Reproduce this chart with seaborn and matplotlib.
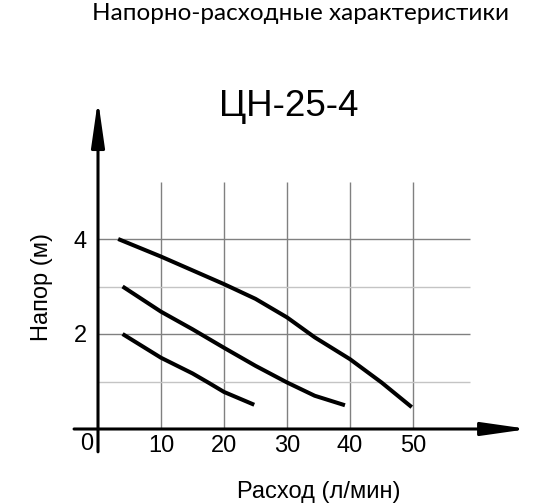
import numpy as np
import pandas as pd
import matplotlib
matplotlib.use("Agg")
import matplotlib.pyplot as plt
import seaborn as sns

# curves: flow (л/мин) vs head (м)
flow_high = [3.2, 10, 15, 20, 25, 30, 34.4, 40, 45, 49.8]
head_high = [4.0, 3.63, 3.34, 3.05, 2.74, 2.35, 1.93, 1.47, 0.98, 0.46]
flow_mid = [3.9, 10, 15, 20, 25, 30, 34.4, 39.2]
head_mid = [3.0, 2.47, 2.10, 1.71, 1.33, 0.98, 0.70, 0.50]
flow_low = [3.9, 10, 15, 17.6, 20, 24.8]
head_low = [2.0, 1.50, 1.17, 0.97, 0.78, 0.51]

x_ticks = [10, 20, 30, 40, 50]
y_ticks = [2, 4]
y_minor = [1, 3]

title_top = "Напорно-расходные характеристики"
model = "ЦН-25-4"
x_label = "Расход (л/мин)"
y_label = "Напор (м)"

sns.set_style("white")
plt.rcParams["font.family"] = ["Liberation Sans", "DejaVu Sans"]
plt.rcParams["text.color"] = "black"
plt.rcParams["xtick.color"] = "black"
plt.rcParams["ytick.color"] = "black"

df = pd.concat([
    pd.DataFrame({"flow": flow_high, "head": head_high, "speed": "3"}),
    pd.DataFrame({"flow": flow_mid, "head": head_mid, "speed": "2"}),
    pd.DataFrame({"flow": flow_low, "head": head_low, "speed": "1"}),
], ignore_index=True)

fig = plt.figure(figsize=(5.6, 5.04), dpi=100)
ax = fig.add_axes([0, 0, 1, 1])
ax.set_xlim(-98 / 6.3, 462 / 6.3)
ax.set_ylim(-75 / 47.5, 429 / 47.5)

# grid
ax.vlines(x_ticks, 0, 5.2, color="#808080", lw=1.0, zorder=1)
ax.hlines(y_ticks, 0, 59, color="#808080", lw=1.0, zorder=1)
ax.hlines(y_minor, 0, 59, color="#c4c4c4", lw=1.0, zorder=1)

sns.lineplot(data=df, x="flow", y="head", hue="speed", units="speed",
             estimator=None, palette=["black"] * 3, linewidth=2.9,
             legend=False, ax=ax, zorder=3)
for line in ax.get_lines():
    line.set_solid_capstyle("butt")
    line.set_solid_joinstyle("round")

# axes with arrows
arrow = dict(arrowstyle="-|>,head_length=2.8,head_width=0.4", lw=2.2,
             color="black", shrinkA=0, shrinkB=0)
ax.annotate("", xy=(68.3, 0), xytext=(-3.8, 0), arrowprops=arrow, zorder=4)
ax.annotate("", xy=(0, 6.93), xytext=(0, -0.48), arrowprops=arrow, zorder=4)

for side in ["top", "right"]:
    ax.spines[side].set_visible(False)
for side in ["bottom", "left"]:
    ax.spines[side].set_position(("data", 0))
    ax.spines[side].set_visible(False)

ax.set_xticks(x_ticks)
ax.set_yticks(y_ticks)
ax.tick_params(axis="x", length=0, pad=4, labelsize=17)
ax.tick_params(axis="y", length=0, pad=8, labelsize=17)
ax.set_xlabel("")
ax.set_ylabel("")
ax.text(-1.75, -0.32, "0", fontsize=17, ha="center", va="center")

ax.text(35, -1.33, x_label, fontsize=17, ha="center", va="center")
ax.text(-8.9, 2.99, y_label, fontsize=17, ha="center", va="center", rotation=90)

fig.text(301 / 560, 1 - 14 / 504, title_top, fontsize=17.5, ha="center",
         va="center", family=["Lato", "DejaVu Sans"])
fig.text(289 / 560, 1 - 107 / 504, model, fontsize=26.5, ha="center", va="center")

fig.savefig("out.png", dpi=100)
